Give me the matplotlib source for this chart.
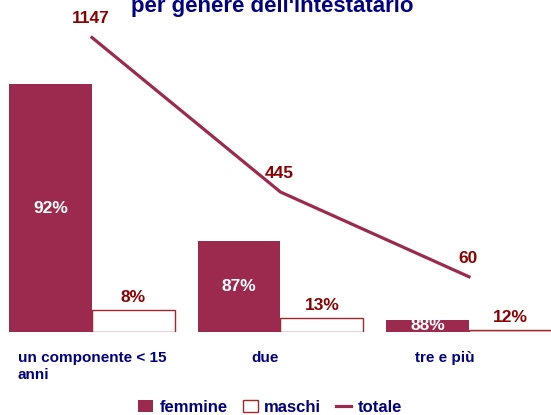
import matplotlib
matplotlib.use("Agg")
from matplotlib import pyplot as plt
import numpy as np

# data
categories = ["un componente < 15\nanni", "due", "tre e più"]
totale = [1147, 445, 60]
femmine_pct = [92, 87, 88]
maschi_pct = [8, 13, 12]

femmine = [t * p / 100 for t, p in zip(totale, femmine_pct)]
maschi = [t * p / 100 for t, p in zip(totale, maschi_pct)]

bar_col = "#9C2A4E"
edge_col = "#A0282A"
num_col = "#8B0000"
navy = "#000080"

plt.rcParams["font.family"] = ["Liberation Sans", "DejaVu Sans"]
plt.rcParams["font.weight"] = "bold"

fig = plt.figure(figsize=(5.51, 4.15), dpi=100)
ax = fig.add_axes([0, 0.2, 1, 0.752])
ax2 = ax.twinx()

x = np.arange(len(categories))
w = 0.44
b1 = ax.bar(x - w / 2, femmine, w, color=bar_col, label="femmine")
b2 = ax.bar(x + w / 2, maschi, w, color="white", edgecolor=edge_col, linewidth=1, label="maschi")
ln, = ax2.plot(x, totale, color=bar_col, linewidth=2.3, label="totale")

ax.set_xlim(-0.488, 2.435)
ax.set_ylim(0, 1328)
ax2.set_ylim(-191, 1227)

# percentages
for xi, f, p in zip(x, femmine, femmine_pct):
    ax.text(xi - w / 2, f / 2, f"{p}%", color="white", ha="center", va="center",
            fontsize=12.5, fontweight="bold", clip_on=True)
for xi, m, p in zip(x, maschi, maschi_pct):
    ax.annotate(f"{p}%", (xi + w / 2, m), xytext=(0, 4), textcoords="offset points",
                color=num_col, ha="center", va="bottom", fontsize=12.5, fontweight="bold")
for xi, t in zip(x, totale):
    ax2.annotate(str(t), (xi, t), xytext=(-1, 8), textcoords="offset points",
                 color=num_col, ha="center", va="bottom", fontsize=12.5, fontweight="bold")

label_offsets = [0, -0.08, -0.13]
ax.set_xticks(x + np.array(label_offsets))
ax.set_xticklabels(categories, color=navy, fontsize=11, fontweight="bold",
                   multialignment="left", va="top")
ax.tick_params(axis="x", length=0, pad=14)
for a in (ax, ax2):
    a.set_yticks([])
    for s in a.spines.values():
        s.set_visible(False)

fig.text(0.495, 1 - 12 / 415, "per genere dell'intestatario", ha="center", va="baseline",
         color=navy, fontsize=16, fontweight="bold")

leg = fig.legend([b1, b2, ln], ["femmine", "maschi", "totale"], loc="lower center",
                 bbox_to_anchor=(0.49, -0.035), ncol=3, frameon=False, fontsize=12,
                 handlelength=0.9, handletextpad=0.4, columnspacing=0.9)
for t in leg.get_texts():
    t.set_color(navy)
    t.set_fontweight("bold")

fig.savefig("out.png", dpi=100)
